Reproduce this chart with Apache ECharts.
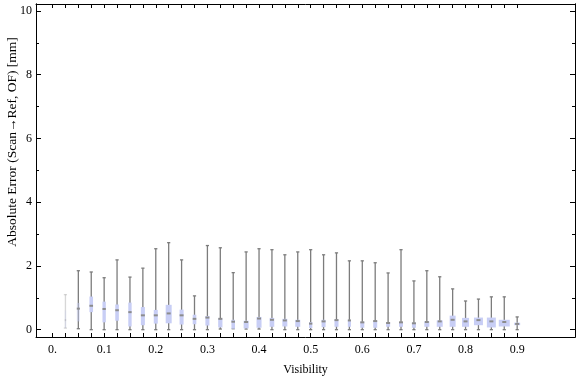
<!DOCTYPE html>
<html><head><meta charset="utf-8">
<script src="https://cdn.jsdelivr.net/npm/echarts@6/dist/echarts.min.js"></script>
<style>html,body{margin:0;padding:0;background:#fff}#c{width:576px;height:377px}</style>
</head><body><div id="c"></div>
<script>
// Visibility bins (box centres)
const visibility = [0.025,0.05,0.075,0.1,0.125,0.15,0.175,0.2,0.225,0.25,0.275,0.3,0.325,0.35,0.375,0.4,0.425,0.45,0.475,0.5,0.525,0.55,0.575,0.6,0.625,0.65,0.675,0.7,0.725,0.75,0.775,0.8,0.825,0.85,0.875,0.9];
const whiskerLow = [0.05,0.03,0,0,0,0,0,0,0,0,0,0,0.02,0.03,0.02,0.02,0,0,0,0,0,0,0,0,0,0,0,0,0,0,0,0,0,0,0,0];
const q1 =        [0.05,0.26,0.55,0.23,0.28,0.10,0.14,0.19,0.20,0.16,0.17,0.13,0.07,0.03,0.04,0.06,0.09,0.10,0.09,0.05,0.08,0.09,0.09,0.06,0.06,0.09,0.09,0.06,0.09,0.09,0.09,0.09,0.14,0.07,0.10,0.14];
const median =    [0.30,0.66,0.75,0.65,0.61,0.55,0.45,0.45,0.51,0.45,0.34,0.38,0.34,0.25,0.24,0.35,0.31,0.29,0.27,0.19,0.26,0.30,0.29,0.23,0.27,0.21,0.23,0.20,0.24,0.26,0.31,0.26,0.30,0.26,0.24,0.18];
const q3 =        [0.60,0.84,1.04,0.88,0.79,0.85,0.71,0.62,0.78,0.63,0.47,0.43,0.36,0.31,0.28,0.40,0.37,0.34,0.31,0.24,0.31,0.32,0.31,0.25,0.28,0.23,0.24,0.22,0.26,0.29,0.44,0.37,0.38,0.38,0.31,0.22];
const whiskerHigh=[1.10,1.85,1.81,1.63,2.19,1.65,1.93,2.54,2.73,2.19,1.06,2.64,2.57,1.79,2.44,2.54,2.51,2.35,2.44,2.51,2.35,2.41,2.16,2.16,2.10,1.78,2.51,1.53,1.85,1.66,1.28,0.90,0.96,1.03,1.03,0.40];
// relative box widths (in visibility units)
const boxWidth =  [0.002,0.006,0.007,0.0065,0.007,0.0065,0.0078,0.0078,0.0116,0.0078,0.007,0.0078,0.0083,0.007,0.0097,0.0097,0.009,0.0097,0.0097,0.0064,0.0078,0.0078,0.006,0.0078,0.0078,0.0078,0.0078,0.0078,0.0097,0.0116,0.0116,0.0136,0.0174,0.0174,0.0213,0.0116];
const xTickValues = [0,0.025,0.05,0.075,0.1,0.125,0.15,0.175,0.2,0.225,0.25,0.275,0.3,0.325,0.35,0.375,0.4,0.425,0.45,0.475,0.5,0.525,0.55,0.575,0.6,0.625,0.65,0.675,0.7,0.725,0.75,0.775,0.8,0.825,0.85,0.875,0.9];
const xLabelValues = [0,0.1,0.2,0.3,0.4,0.5,0.6,0.7,0.8,0.9];
const yMajor = [0,2,4,6,8,10];
const yMinor = [0,1,2,3,4,5,6,7,8,9,10];

const data = visibility.map((v,i)=>[v, whiskerLow[i], q1[i], median[i], q3[i], whiskerHigh[i], boxWidth[i]]);
const FONT = 'Liberation Serif';
const XMIN = -0.032, XMAX = 1.012, YMIN = -0.23, YMAX = 10.22;

function xAx(pos, labels, len){
  return {type:'value', position:pos, min:XMIN, max:XMAX, splitLine:{show:false},
    axisLine:{show:true, onZero:false, lineStyle:{color:'#000', width:1}},
    axisTick:{show:true, inside:true, length:len, customValues:xTickValues, lineStyle:{color:'#000', width:1}},
    axisLabel:{show:labels, customValues:xLabelValues, margin:7, color:'#000', fontFamily:FONT, fontSize:12,
      formatter:v=> v===0 ? '0.' : (Math.round(v*10)/10).toString()}};
}
function yAx(pos, labels, vals, len){
  return {type:'value', position:pos, min:YMIN, max:YMAX, splitLine:{show:false},
    axisLine:{show:true, onZero:false, lineStyle:{color:'#000', width:1}},
    axisTick:{show:true, inside:true, length:len, customValues:vals, lineStyle:{color:'#000', width:1}},
    axisLabel:{show:labels, customValues:yMajor, margin:4, color:'#000', fontFamily:FONT, fontSize:12}};
}

const chart = echarts.init(document.getElementById('c'), null, {renderer:'canvas'});
chart.setOption({
  animation:false,
  grid:{left:36, right:1, top:4, bottom:40, containLabel:false, outerBoundsMode:'none'},
  xAxis:[
    Object.assign(xAx('bottom', true, 4), {name:'Visibility', nameLocation:'middle', nameGap:27, nameTextStyle:{color:'#000', fontFamily:FONT, fontSize:12}}),
    xAx('top', false, 4)
  ],
  yAxis:[
    yAx('left', true, yMajor, 5),
    yAx('left', false, yMinor, 3),
    yAx('right', false, yMajor, 5),
    yAx('right', false, yMinor, 3)
  ],
  graphic:[{type:'text', x:12, y:142, rotation:Math.PI/2,
    style:{text:'Absolute Error (Scan\u2192Ref, OF) [mm]', fill:'#000', font:'13.5px "Liberation Serif"', align:'center', verticalAlign:'middle'}}],
  series:[{
    type:'custom', xAxisIndex:0, yAxisIndex:0, data:data,
    encode:{x:0, y:[1,2,3,4,5]},
    renderItem:function(params, api){
      const x = api.value(0);
      const lo = api.coord([x, api.value(1)]);
      const a = api.coord([x, api.value(2)]);
      const m = api.coord([x, api.value(3)]);
      const b = api.coord([x, api.value(4)]);
      const hi = api.coord([x, api.value(5)]);
      const bw = Math.max(1.5, api.size([api.value(6), 0])[0]);
      const idx = params.dataIndex;
      const op = idx === 0 ? 0.3 : 1;
      const boxOp = idx === 0 ? 0.3 : (idx === 1 ? 0.45 : 1);
      const gray = '#7c7c7c';
      const cap = 1.6;
      return {type:'group', children:[
        {type:'line', shape:{x1:hi[0], y1:hi[1], x2:lo[0], y2:lo[1]}, style:{stroke:gray, lineWidth:1.3, opacity:op}},
        {type:'line', shape:{x1:hi[0]-cap, y1:hi[1], x2:hi[0]+cap, y2:hi[1]}, style:{stroke:gray, lineWidth:1.3, opacity:op}},
        {type:'line', shape:{x1:lo[0]-cap, y1:lo[1], x2:lo[0]+cap, y2:lo[1]}, style:{stroke:gray, lineWidth:1.3, opacity:op}},
        {type:'rect', shape:{x:a[0]-bw/2, y:b[1], width:bw, height:Math.max(1, a[1]-b[1])}, style:{fill:'rgb(200,206,245)', opacity:boxOp}},
        {type:'rect', shape:{x:m[0]-Math.min(2, bw/2), y:m[1]-1, width:Math.min(4, bw), height:2}, style:{fill:'#8c8c8c', opacity:op}}
      ]};
    }
  }]
});
</script></body></html>
